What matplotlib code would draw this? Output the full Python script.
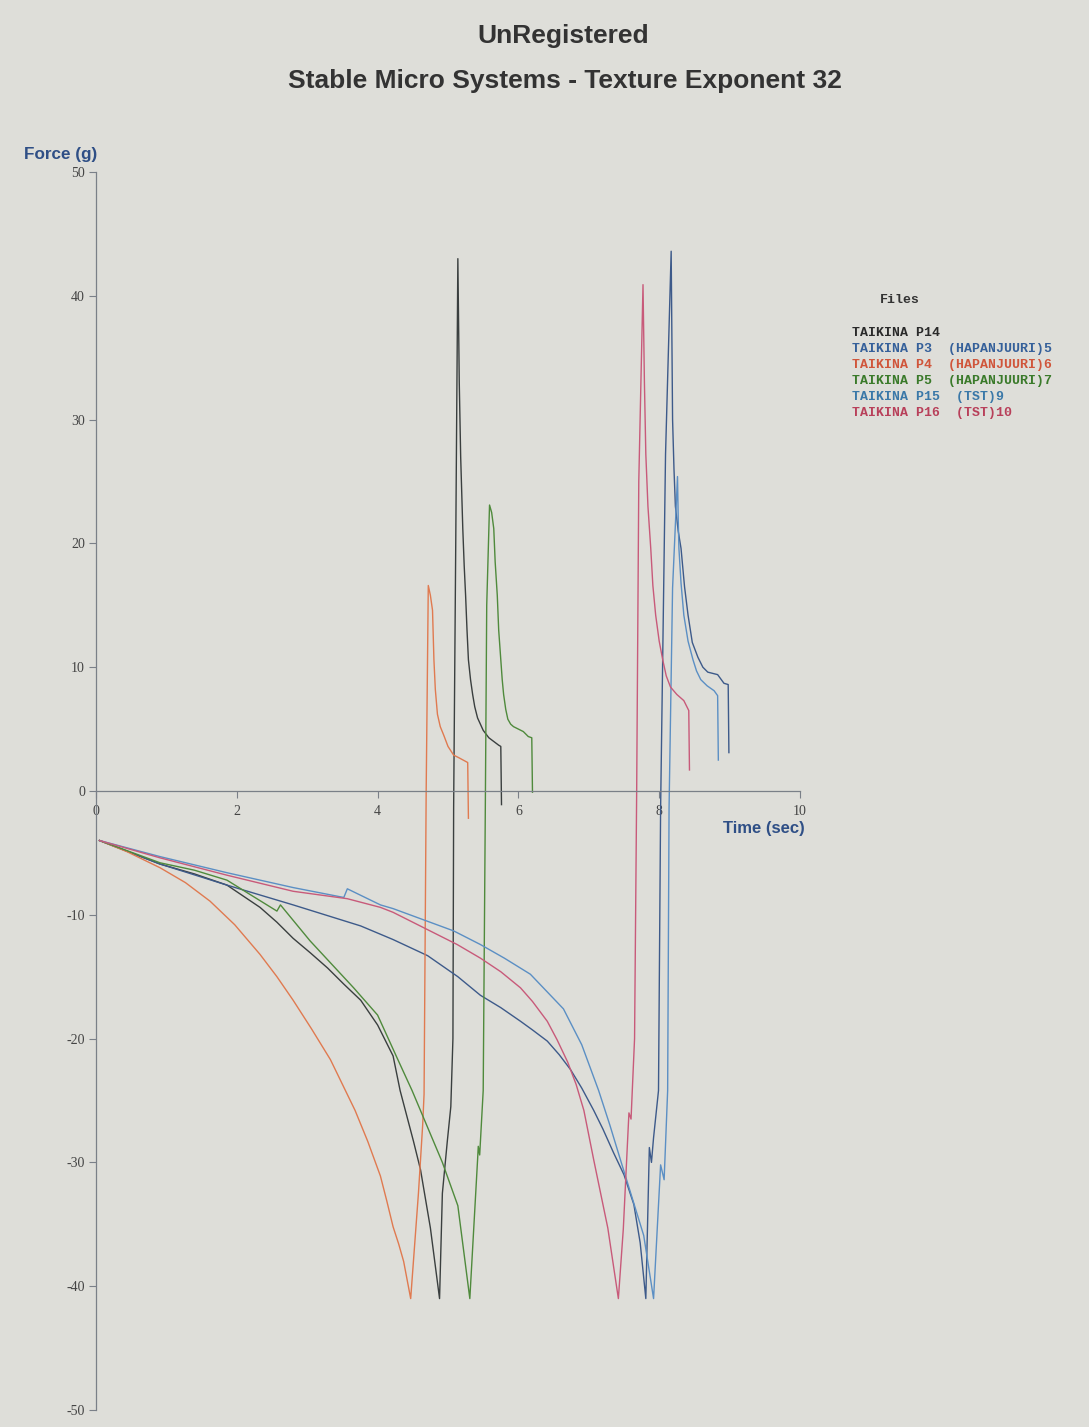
import matplotlib
matplotlib.use('Agg')
import matplotlib.pyplot as plt

plt.rcParams['axes.unicode_minus'] = False

# --- data (time in s, force in g) ---
t_p14 = [0.05, 0.91, 1.40, 1.86, 2.33, 2.57, 2.80, 3.05, 3.29, 3.52, 3.76, 4.00, 4.22, 4.32, 4.51, 4.61, 4.75, 4.88,
         4.92, 4.99, 5.04, 5.07, 5.08, 5.11, 5.14,
         5.16, 5.18, 5.21, 5.23, 5.25, 5.27, 5.29, 5.32, 5.35, 5.38, 5.42, 5.50, 5.58, 5.65, 5.72, 5.75, 5.76]
f_p14 = [-4.0, -5.9, -6.7, -7.6, -9.4, -10.6, -11.9, -13.1, -14.3, -15.6, -16.9, -18.9, -21.4, -24.2, -28.3, -30.6, -35.3, -41.0,
         -32.5, -28.3, -25.5, -20.0, -1.4, 20.0, 43.0,
         33.0, 27.0, 21.2, 18.2, 15.8, 13.0, 10.6, 9.0, 7.8, 6.8, 5.9, 4.9, 4.3, 4.0, 3.7, 3.6, -1.1]

t_p3 = [0.05, 0.91, 1.86, 2.80, 3.76, 4.22, 4.71, 5.14, 5.46, 5.75, 6.03, 6.20, 6.41, 6.58, 6.74, 6.90, 7.07, 7.20, 7.35,
        7.50, 7.64, 7.73, 7.81,
        7.86, 7.89, 7.92, 7.99, 8.02, 8.09, 8.17,
        8.19, 8.21, 8.23, 8.27, 8.31, 8.36, 8.41, 8.47, 8.55, 8.62, 8.69, 8.76, 8.83, 8.92, 8.98, 8.99]
f_p3 = [-4.0, -5.9, -7.6, -9.2, -10.9, -12.0, -13.3, -15.0, -16.5, -17.5, -18.6, -19.3, -20.2, -21.3, -22.5, -24.0, -25.8, -27.3, -29.2,
        -31.0, -33.4, -36.5, -41.0,
        -28.8, -30.0, -28.0, -24.2, -1.4, 27.2, 43.6,
        30.0, 26.0, 23.0, 21.0, 19.6, 16.5, 14.2, 12.0, 10.8, 10.0, 9.6, 9.5, 9.4, 8.7, 8.6, 3.1]

t_p4 = [0.05, 0.44, 0.91, 1.27, 1.62, 1.97, 2.33, 2.57, 2.80, 3.06, 3.33, 3.68, 3.86, 4.04, 4.13, 4.22, 4.30, 4.37, 4.42, 4.47,
        4.58, 4.64, 4.66, 4.69, 4.72,
        4.75, 4.78, 4.80, 4.82, 4.85, 4.89, 4.94, 5.00, 5.08, 5.15, 5.28, 5.29]
f_p4 = [-4.0, -4.9, -6.2, -7.4, -8.9, -10.8, -13.2, -15.0, -16.9, -19.2, -21.7, -25.8, -28.3, -31.1, -33.1, -35.2, -36.6, -38.0, -39.5, -41.0,
        -32.5, -27.0, -24.5, 0.0, 16.6,
        15.8, 14.6, 10.6, 8.2, 6.2, 5.2, 4.5, 3.6, 2.9, 2.7, 2.3, -2.2]

t_p5 = [0.05, 0.91, 1.40, 1.86, 2.20, 2.57, 2.62, 3.04, 3.35, 3.66, 3.83, 4.00, 4.28, 4.49, 4.92, 5.14, 5.31,
        5.42, 5.43, 5.45, 5.50, 5.53, 5.55, 5.59,
        5.62, 5.65, 5.67, 5.70, 5.72, 5.75, 5.77, 5.79, 5.82, 5.85, 5.89, 5.93, 6.00, 6.07, 6.14, 6.19, 6.20]
f_p5 = [-4.0, -5.8, -6.4, -7.2, -8.4, -9.7, -9.2, -12.1, -14.0, -15.9, -17.0, -18.1, -21.6, -24.2, -30.0, -33.5, -41.0,
        -29.8, -28.7, -29.4, -24.2, -1.4, 15.0, 23.1,
        22.5, 21.2, 18.5, 15.8, 13.0, 10.6, 9.0, 7.8, 6.6, 5.8, 5.4, 5.2, 5.0, 4.8, 4.4, 4.3, -0.1]

t_p15 = [0.05, 0.91, 1.86, 2.80, 3.52, 3.57, 4.04, 4.22, 5.08, 5.46, 5.80, 6.17, 6.64, 6.90, 7.14, 7.30, 7.45, 7.78, 7.92,
         8.02, 8.07, 8.12, 8.14, 8.19, 8.26,
         8.27, 8.28, 8.31, 8.35, 8.41, 8.48, 8.53, 8.59, 8.68, 8.78, 8.83, 8.84]
f_p15 = [-4.0, -5.3, -6.6, -7.8, -8.6, -7.9, -9.2, -9.5, -11.3, -12.4, -13.5, -14.8, -17.6, -20.5, -24.2, -27.0, -29.8, -35.9, -41.0,
         -30.2, -31.4, -24.2, -1.4, 16.4, 25.4,
         22.0, 19.6, 16.8, 14.2, 12.1, 10.6, 9.7, 9.0, 8.5, 8.1, 7.7, 2.5]

t_p16 = [0.05, 0.91, 1.86, 2.80, 3.57, 4.04, 4.22, 5.13, 5.46, 5.75, 6.03, 6.20, 6.41, 6.55, 6.70, 6.82, 6.93, 7.07, 7.27, 7.42,
         7.49, 7.57, 7.60, 7.65, 7.68, 7.71, 7.77,
         7.79, 7.81, 7.84, 7.88, 7.91, 7.95, 8.00, 8.05, 8.10, 8.16, 8.25, 8.35, 8.42, 8.43]
f_p16 = [-4.0, -5.4, -6.8, -8.1, -8.7, -9.4, -9.8, -12.4, -13.5, -14.6, -15.9, -17.0, -18.6, -20.1, -21.9, -23.7, -25.8, -29.8, -35.3, -41.0,
         -35.4, -26.0, -26.5, -20.0, 0.0, 25.0, 40.9,
         33.0, 27.2, 23.0, 19.6, 16.6, 14.2, 12.1, 10.6, 9.3, 8.4, 7.8, 7.3, 6.5, 1.7]

file_names = ['TAIKINA P14',
              'TAIKINA P3  (HAPANJUURI)5',
              'TAIKINA P4  (HAPANJUURI)6',
              'TAIKINA P5  (HAPANJUURI)7',
              'TAIKINA P15  (TST)9',
              'TAIKINA P16  (TST)10']

x_ticks = [0, 2, 4, 6, 8, 10]
y_ticks = [-50, -40, -30, -20, -10, 0, 10, 20, 30, 40, 50]

# styles
line_colors = ['#3a3f3f', '#3d5a8a', '#e07a50', '#4f8a3c', '#5b8fc4', '#c85a7a']
text_colors = ['#2a2a2a', '#35609a', '#d0553a', '#3a7a2a', '#3a78a8', '#b8405a']
paper = '#deded9'
axis_col = '#7a8088'
label_blue = '#2f4f86'

series = [(t_p14, f_p14), (t_p3, f_p3), (t_p4, f_p4),
          (t_p5, f_p5), (t_p15, f_p15), (t_p16, f_p16)]

W, H = 1089, 1427
fig = plt.figure(figsize=(W / 100, H / 100), dpi=100, facecolor=paper)
ax = fig.add_axes([96 / W, 1 - 1410 / H, 704 / W, 1238 / H])
ax.set_facecolor(paper)

for (t, f), c in zip(series, line_colors):
    ax.plot(t, f, color=c, lw=1.0, solid_joinstyle='round')

ax.set_xlim(0, 10)
ax.set_ylim(-50, 50)
for s in ['top', 'right']:
    ax.spines[s].set_visible(False)
ax.spines['bottom'].set_position(('data', 0))
for s in ['left', 'bottom']:
    ax.spines[s].set_color(axis_col)
    ax.spines[s].set_linewidth(0.9)

ax.set_xticks(x_ticks)
ax.set_yticks(y_ticks)
ax.set_xticklabels([str(v) for v in x_ticks])
ax.set_yticklabels([str(v) for v in y_ticks])
ax.tick_params(axis='both', direction='out', length=5, width=0.8, color=axis_col,
               labelsize=10, labelcolor='#444444', pad=3)
ax.tick_params(axis='x', pad=5)
for lab in ax.get_xticklabels() + ax.get_yticklabels():
    lab.set_family('Liberation Serif')

ax.text(10.07, -3.0, 'Time (sec)', ha='right', va='center', fontsize=12,
        fontweight='bold', color=label_blue, family='Liberation Sans')

fig.text(24 / W, 1 - 155 / H, 'Force (g)', ha='left', va='center', fontsize=12.3,
         fontweight='bold', color=label_blue, family='Liberation Sans')

fig.text(563 / W, 1 - 36 / H, 'UnRegistered', ha='center', va='center', fontsize=19,
         fontweight='bold', color='#333333', family='Liberation Sans')
fig.text(565 / W, 1 - 81 / H, 'Stable Micro Systems - Texture Exponent 32', ha='center',
         va='center', fontsize=19, fontweight='bold', color='#333333', family='Liberation Sans')

# file list
fig.text(880 / W, 1 - 300 / H, 'Files', ha='left', va='center', fontsize=9.5,
         fontweight='bold', color='#333333', family='Liberation Mono')
for i, (name, c) in enumerate(zip(file_names, text_colors)):
    fig.text(852 / W, 1 - (333 + 16 * i) / H, name, ha='left', va='center', fontsize=9.5,
             fontweight='bold', color=c, family='Liberation Mono')

fig.savefig('out.png', dpi=100, facecolor=paper)
